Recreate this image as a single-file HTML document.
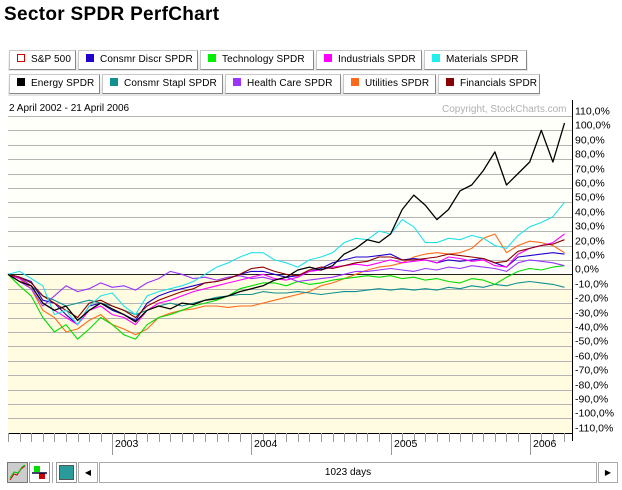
<!DOCTYPE html>
<html><head><meta charset="utf-8">
<style>
body{margin:0;width:622px;height:490px;background:#fff;font-family:"Liberation Sans",sans-serif;position:relative;overflow:hidden}
.abs{position:absolute}
.btn{position:absolute;height:18px;background:#fff;border:1px solid #c8c8c8;border-right-color:#888;border-bottom-color:#888;font-size:10px;line-height:18px;white-space:nowrap;overflow:hidden;letter-spacing:0.1px}
.btn i{display:inline-block;width:8px;height:8px;margin:0 6px 0 7px;vertical-align:-0px}
</style></head><body>
<div class="abs" style="left:4px;top:4px;font-size:19px;font-weight:bold;letter-spacing:0.3px">Sector SPDR PerfChart</div>
<div class="abs" style="left:8px;top:48px;width:520px;height:23px;background:linear-gradient(#fff,#e4e4e4)"></div>
<div class="abs" style="left:8px;top:72px;width:532px;height:24px;background:linear-gradient(#fff,#e4e4e4)"></div>
<div class="btn" style="left:9px;top:50px;width:65px"><i style="width:6px;height:6px;border:1px solid #c00;background:#fff"></i>S&amp;P 500</div>
<div class="btn" style="left:78px;top:50px;width:118px"><i style="background:#2200cc"></i>Consmr Discr SPDR</div>
<div class="btn" style="left:200px;top:50px;width:112px"><i style="background:#00ee00"></i>Technology SPDR</div>
<div class="btn" style="left:316px;top:50px;width:104px"><i style="background:#ff00ff"></i>Industrials SPDR</div>
<div class="btn" style="left:424px;top:50px;width:101px"><i style="background:#22eeee"></i>Materials SPDR</div>
<div class="btn" style="left:9px;top:74px;width:89px"><i style="background:#000"></i>Energy SPDR</div>
<div class="btn" style="left:102px;top:74px;width:119px"><i style="background:#119090"></i>Consmr Stapl SPDR</div>
<div class="btn" style="left:225px;top:74px;width:114px"><i style="background:#9933ff"></i>Health Care SPDR</div>
<div class="btn" style="left:343px;top:74px;width:91px"><i style="background:#ff6a1a"></i>Utilities SPDR</div>
<div class="btn" style="left:438px;top:74px;width:100px"><i style="background:#8b0000"></i>Financials SPDR</div>
<div class="abs" style="left:9px;top:103px;font-size:10px">2 April 2002 - 21 April 2006</div>
<div class="abs" style="left:442px;top:104px;font-size:10px;color:#b0b0b0">Copyright, StockCharts.com</div>
<svg class="abs" style="left:0;top:0" width="622" height="490" id="chart"></svg>

<div class="abs" style="left:0;top:460px;width:622px;height:26px">
 <div class="abs" style="left:7px;top:2px;width:19px;height:19px;background:#ccc;border:1px solid #777">
  <svg width="19" height="19"><polyline points="2,17 6,11 9,12 13,6 17,3" fill="none" stroke="#c00" stroke-width="1"/><polyline points="2,15 6,9 10,10 14,4 17,2" fill="none" stroke="#0c0" stroke-width="1"/></svg></div>
 <div class="abs" style="left:29px;top:2px;width:19px;height:19px;background:#fff;border:1px solid #999">
  <svg width="19" height="19"><rect x="4" y="3" width="6" height="6" fill="#0d0"/><rect x="9" y="10" width="6" height="6" fill="#c00"/><line x1="2" y1="10" x2="17" y2="10" stroke="#003" stroke-width="1.5"/></svg></div>
 <div class="abs" style="left:52px;top:2px;width:1px;height:21px;background:#aaa"></div>
 <div class="abs" style="left:56px;top:2px;width:19px;height:19px;background:#fff;border:1px solid #999">
  <div style="margin:2px;width:15px;height:15px;background:#2a9b9b;border:1px solid #555;box-sizing:border-box"></div></div>
 <div class="abs" style="left:78px;top:2px;width:18px;height:19px;background:#fff;border:1px solid #aaa;font-size:8px;line-height:19px;text-align:center">◀</div>
 <div class="abs" style="left:99px;top:2px;width:496px;height:19px;background:#fff;border:1px solid #aaa;font-size:10px;line-height:19px;text-align:center">1023 days</div>
 <div class="abs" style="left:598px;top:2px;width:18px;height:19px;background:#fff;border:1px solid #aaa;font-size:8px;line-height:19px;text-align:center">▶</div>
</div>

<script>
// months since April 2002 (0..48)
const months = Array.from({length:49},(_,i)=>i);
const yTicks = [110,100,90,80,70,60,50,40,30,20,10,0,-10,-20,-30,-40,-50,-60,-70,-80,-90,-100,-110];
const yearLabels = ["2003","2004","2005","2006"];
const yearMonths = [9,21,33,45];

const utilities = [0,-3,-10,-25,-30,-40,-38,-32,-28,-35,-38,-42,-38,-30,-27,-25,-24,-22,-22,-23,-22,-22,-20,-18,-16,-14,-12,-8,-6,-3,0,3,5,6,8,12,14,15,14,15,18,25,28,15,20,23,22,20,15];
const staples = [0,-2,-8,-15,-18,-22,-20,-18,-20,-22,-25,-28,-25,-22,-20,-22,-20,-18,-16,-15,-14,-14,-12,-13,-13,-12,-13,-14,-13,-12,-12,-11,-10,-11,-10,-11,-10,-11,-9,-10,-8,-9,-7,-8,-6,-5,-6,-7,-9];
const technology = [0,-8,-15,-30,-40,-35,-45,-38,-30,-35,-42,-45,-35,-30,-28,-25,-22,-20,-18,-15,-10,-8,-6,-6,-8,-5,-7,-6,-4,-3,-2,-1,-2,-1,-3,-2,-4,-3,-5,-6,-3,-4,-7,-2,2,4,3,5,6];
const healthCare = [0,-5,-10,-22,-15,-8,-12,-10,-6,-9,-8,-11,-6,-3,2,0,-3,-2,-4,-2,-1,-3,-2,-4,-2,-5,-4,-3,-2,0,2,2,3,4,3,2,4,3,5,4,6,5,4,2,8,10,9,8,6];
const consDiscr = [0,-2,-5,-18,-20,-28,-35,-22,-20,-25,-28,-32,-20,-15,-12,-10,-8,-6,-5,-3,0,2,2,0,-2,-1,2,4,8,10,12,12,13,14,10,11,10,8,10,9,10,11,8,5,12,13,14,15,14];
const industrials = [0,-3,-8,-20,-25,-30,-35,-25,-22,-28,-30,-35,-25,-20,-18,-15,-12,-10,-8,-6,-4,-2,0,-3,-4,-2,2,3,5,6,7,6,8,10,8,9,10,8,12,11,9,10,6,5,14,18,20,22,28];
const financials = [0,-2,-6,-15,-20,-25,-30,-20,-18,-22,-25,-30,-22,-18,-15,-12,-10,-6,-5,-3,0,4,5,2,0,-1,3,5,4,6,8,9,12,12,10,10,11,12,14,13,12,11,8,9,16,18,20,21,24];
const materials = [0,2,-3,-8,-28,-25,-35,-22,-15,-13,-22,-28,-15,-12,-10,-8,-5,0,5,8,12,15,15,10,8,5,10,12,15,22,25,24,30,28,38,33,22,22,25,24,27,25,20,18,27,33,36,40,50];
const energy = [0,-5,-8,-20,-25,-22,-32,-25,-20,-24,-28,-33,-25,-22,-24,-20,-21,-18,-17,-15,-12,-10,-8,-4,-2,3,5,3,6,14,18,24,22,28,45,55,48,38,45,58,62,72,85,62,70,78,100,78,105];

const series = [
 ["utilities",utilities,"#ff6a1a"],["consumer-staples",staples,"#119090"],["technology",technology,"#00dd00"],
 ["health-care",healthCare,"#9933ff"],["consumer-discretionary",consDiscr,"#2200cc"],["industrials",industrials,"#ff00ff"],
 ["financials",financials,"#8b0000"],["materials",materials,"#22e0e8"],["energy",energy,"#000000"]
];

const X0=8,X1=572,Y0=274.3,PX=1.44,TOP=100,BOT=433;
const xS=m=>X0+(m/48.65)*(X1-X0);
const yS=v=>Y0-v*PX;
const svg=document.getElementById('chart');
const NS='http://www.w3.org/2000/svg';
function mk(t,a){const e=document.createElementNS(NS,t);for(const k in a)e.setAttribute(k,a[k]);svg.appendChild(e);return e;}

let r=mk('rect',{x:X0,y:116,width:X1-X0,height:Y0-116,fill:'#fffffa'});


r=mk('rect',{x:X0,y:Y0,width:X1-X0,height:BOT-Y0,fill:'#fffce2'});


let hl=mk('line',{x1:X0,y1:116.5,x2:X1,y2:116.5,stroke:'#aaa'});



yTicks.forEach(v=>{
  const y=Math.round(yS(v))+0.5;
  const g=mk('line',{x1:X0,y1:y,x2:X1,y2:y,stroke:v===0?'#222':'#b4b4b4','stroke-width':1});
  
  
  const t=mk('text',{x:X1+3,y:y-2,'font-size':'10.5','font-family':'Liberation Sans, sans-serif',fill:'#000'});
  t.textContent=v.toFixed(1).replace('.',',')+'%';
  
  
});

series.forEach(([name,vals,col])=>{
  const p=mk('polyline',{points:vals.map((v,i)=>xS(months[i]).toFixed(1)+','+yS(v).toFixed(1)).join(' '),fill:'none',stroke:col,'stroke-width':name==='energy'?1.3:1.1,'stroke-linejoin':'round'});
  
  
});

let ax=mk('line',{x1:X1+0.5,y1:TOP,x2:X1+0.5,y2:BOT+8,stroke:'#000'});


ax=mk('line',{x1:X0,y1:BOT+0.5,x2:X1,y2:BOT+0.5,stroke:'#000'});


for(let m=0;m<=48;m++){
  const x=Math.round(xS(m))+0.5;
  const major=yearMonths.includes(m);
  const t=mk('line',{x1:x,y1:BOT,x2:x,y2:BOT+(major?22:9),stroke:'#999'});
  
  
}
yearLabels.forEach((lab,i)=>{
  const t=mk('text',{x:Math.round(xS(yearMonths[i]))+3,y:BOT+14,'font-size':'10.5','font-family':'Liberation Sans, sans-serif'});
  t.textContent=lab;
  
  
});
</script>
</body></html>
